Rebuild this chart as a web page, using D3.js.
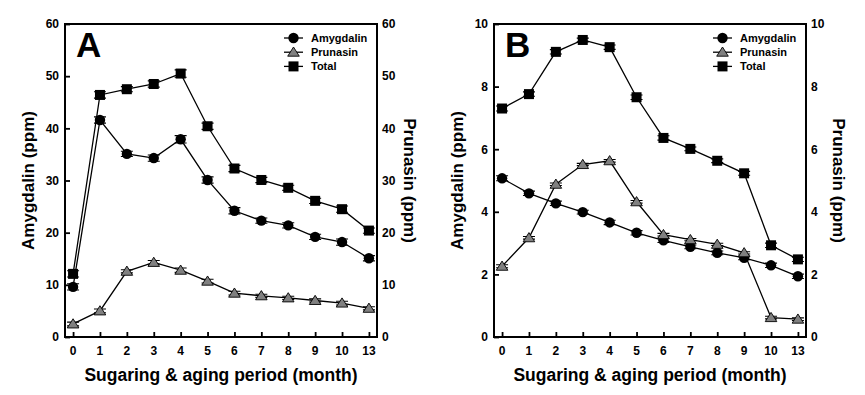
<!DOCTYPE html>
<html lang="en">
<head>
    <meta charset="UTF-8">
    <title>Amygdalin and Prunasin</title>
    <style>
        body { margin: 0; background: #fff; }
        svg text { font-family: "Liberation Sans", Arial, sans-serif; font-weight: bold; fill: #000; }
    </style>
</head>
<body>
    <svg id="chart" width="865" height="395"></svg>

    <script src="https://cdn.jsdelivr.net/npm/d3@7/dist/d3.min.js"></script>
    <script>
        // months on the x axis (categorical, note the jump 10 -> 13)
        var months = ["0", "1", "2", "3", "4", "5", "6", "7", "8", "9", "10", "13"];

        // panel A
        var amygdalinA = [9.6, 41.6, 35.1, 34.3, 37.9, 30.1, 24.2, 22.3, 21.4, 19.2, 18.2, 15.1];
        var prunasinA  = [2.5, 5.0, 12.6, 14.3, 12.8, 10.7, 8.4, 7.9, 7.5, 7.0, 6.5, 5.5];
        var totalA     = [12.1, 46.4, 47.5, 48.5, 50.5, 40.4, 32.3, 30.1, 28.6, 26.1, 24.5, 20.4];
        var errA       = [0.6, 0.6, 0.5, 0.6, 0.7, 0.6, 0.6, 0.5, 0.5, 0.5, 0.6, 0.5];
        var ticksA     = [0, 10, 20, 30, 40, 50, 60];

        // panel B
        var amygdalinB = [5.07, 4.59, 4.27, 3.99, 3.66, 3.33, 3.09, 2.88, 2.69, 2.53, 2.29, 1.94];
        var prunasinB  = [2.26, 3.17, 4.88, 5.51, 5.63, 4.32, 3.27, 3.11, 2.96, 2.69, 0.62, 0.57];
        var totalB     = [7.30, 7.76, 9.11, 9.49, 9.26, 7.66, 6.36, 6.01, 5.63, 5.23, 2.93, 2.48];
        var errB       = [0.08, 0.07, 0.07, 0.06, 0.07, 0.07, 0.07, 0.06, 0.06, 0.06, 0.07, 0.07];
        var ticksB     = [0, 2, 4, 6, 8, 10];

        var seriesNames = ["Amygdalin", "Prunasin", "Total"];

        var svg = d3.select("#chart");

        drawPanel({ left: 65, right: 377, top: 24, bottom: 337 }, "A",
            [amygdalinA, prunasinA, totalA], errA, ticksA);
        drawPanel({ left: 494, right: 806, top: 24, bottom: 337 }, "B",
            [amygdalinB, prunasinB, totalB], errB, ticksB);

        function drawSymbol(g, type, x, y) {
            if (type === "Amygdalin") {
                g.append("circle")
                    .attr("cx", x).attr("cy", y).attr("r", 5.2)
                    .attr("fill", "#000");
            } else if (type === "Prunasin") {
                g.append("path")
                    .attr("d", "M" + x + "," + (y - 5.2) + "L" + (x + 5.8) + "," + (y + 4) + "L" + (x - 5.8) + "," + (y + 4) + "Z")
                    .attr("fill", "#808080")
                    .attr("stroke", "#000")
                    .attr("stroke-width", 0.9);
            } else {
                g.append("rect")
                    .attr("x", x - 5).attr("y", y - 5)
                    .attr("width", 10).attr("height", 10)
                    .attr("fill", "#000");
            }
        }

        function drawPanel(box, letter, series, err, ticks) {
            var g = svg.append("g");
            var height = box.bottom - box.top;
            var maxY = ticks[ticks.length - 1];

            var x = d3.scalePoint()
                .domain(months)
                .range([box.left, box.right])
                .padding(0.3);

            var y = d3.scaleLinear()
                .domain([0, maxY])
                .range([box.bottom, box.top]);

            // left axis, ticks pointing inward
            var left = g.append("g")
                .attr("transform", "translate(" + box.left + ",0)")
                .call(d3.axisRight(y).tickValues(ticks).tickSize(5).tickFormat(""));
            left.selectAll("line").attr("stroke-width", 1.8);
            left.select(".domain").remove();

            ticks.forEach(function (t) {
                g.append("text")
                    .attr("x", box.left - 6)
                    .attr("y", y(t))
                    .attr("dy", "0.36em")
                    .attr("text-anchor", "end")
                    .style("font-size", "12px")
                    .text(t);
                g.append("text")
                    .attr("x", box.right + 5)
                    .attr("y", y(t))
                    .attr("dy", "0.36em")
                    .attr("text-anchor", "start")
                    .style("font-size", "12px")
                    .text(t);
            });

            // bottom axis, ticks pointing up
            var bottom = g.append("g")
                .attr("transform", "translate(0," + box.bottom + ")")
                .call(d3.axisTop(x).tickSize(5).tickFormat(""));
            bottom.selectAll("line").attr("stroke-width", 1.8);
            bottom.select(".domain").remove();

            months.forEach(function (m) {
                g.append("text")
                    .attr("x", x(m))
                    .attr("y", box.bottom + 18)
                    .attr("text-anchor", "middle")
                    .style("font-size", "12px")
                    .text(m);
            });

            // frame
            g.append("path")
                .attr("d", "M" + box.left + "," + box.bottom + "V" + box.top + "H" + box.right + "V" + box.bottom + "Z")
                .attr("fill", "none")
                .attr("stroke", "#000")
                .attr("stroke-width", 2);

            // titles
            g.append("text")
                .attr("x", (box.left + box.right) / 2)
                .attr("y", box.bottom + 44)
                .attr("text-anchor", "middle")
                .style("font-size", "17.5px")
                .text("Sugaring & aging period (month)");

            g.append("text")
                .attr("transform", "translate(" + (box.left - 31) + "," + (box.top + height / 2) + ") rotate(-90)")
                .attr("text-anchor", "middle")
                .style("font-size", "17px")
                .text("Amygdalin (ppm)");

            g.append("text")
                .attr("transform", "translate(" + (box.right + 27) + "," + (box.top + height / 2) + ") rotate(90)")
                .attr("text-anchor", "middle")
                .style("font-size", "17px")
                .text("Prunasin (ppm)");

            g.append("text")
                .attr("x", box.left + 11)
                .attr("y", box.top + 33)
                .style("font-size", "35px")
                .text(letter);

            // series
            var line = d3.line()
                .x(function (d, i) { return x(months[i]); })
                .y(function (d) { return y(d); });

            series.forEach(function (vals) {
                g.append("path")
                    .datum(vals)
                    .attr("d", line)
                    .attr("fill", "none")
                    .attr("stroke", "#000")
                    .attr("stroke-width", 1.3);
            });

            series.forEach(function (vals, s) {
                vals.forEach(function (v, i) {
                    var cx = x(months[i]);
                    var e = err[i] * (s === 1 ? 0.6 : 1);
                    g.append("path")
                        .attr("d", "M" + cx + "," + y(v - e) + "V" + y(v + e) +
                            "M" + (cx - 6) + "," + y(v - e) + "H" + (cx + 6) +
                            "M" + (cx - 6) + "," + y(v + e) + "H" + (cx + 6))
                        .attr("stroke", "#000")
                        .attr("stroke-width", 1.1)
                        .attr("fill", "none");
                    drawSymbol(g, seriesNames[s], cx, y(v));
                });
            });

            // legend
            seriesNames.forEach(function (name, i) {
                var ly = box.top + 14 + i * 14.2;
                var lx = box.left + 219;
                g.append("line")
                    .attr("x1", lx).attr("x2", lx + 19)
                    .attr("y1", ly).attr("y2", ly)
                    .attr("stroke", "#000")
                    .attr("stroke-width", 1.3);
                drawSymbol(g, name, lx + 9.5, ly);
                g.append("text")
                    .attr("x", lx + 27)
                    .attr("y", ly)
                    .attr("dy", "0.36em")
                    .style("font-size", "11px")
                    .text(name);
            });
        }
    </script>
</body>
</html>
